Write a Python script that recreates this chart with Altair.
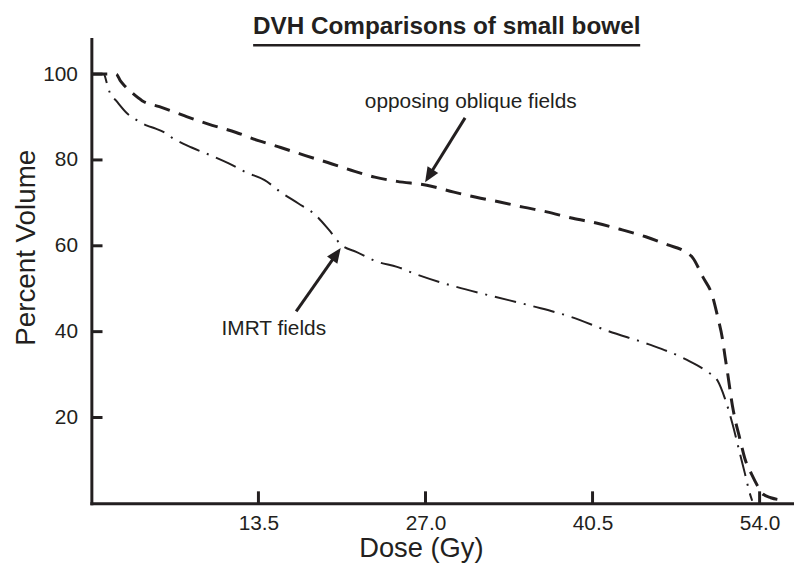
import altair as alt
import pandas as pd

# ---- data ----
dose_oblique = [0, 1.0, 2.0, 2.35, 2.7, 3.3, 4.1, 5.5, 7.5, 9.4, 11.7, 13.5, 15.3, 17.3,
                19.1, 21.0, 22.9, 24.7, 27.1, 29.3, 31.1, 33.0, 34.9, 36.8, 38.9, 40.8,
                42.9, 44.8, 46.6, 48.0, 48.6, 49.4, 50.2, 50.6, 51.0, 51.2, 51.4, 51.8,
                52.0, 52.4, 52.8, 53.35, 53.85, 54.25, 54.9, 55.8]
vol_oblique = [100, 100, 100, 98.4, 97.2, 95.6, 93.8, 92.4, 90.3, 88.4, 86.4, 84.5, 82.9, 81.0,
               79.4, 77.6, 76.0, 75.0, 74.1, 72.5, 71.3, 70.2, 69.0, 67.9, 66.4, 65.3,
               63.7, 62.1, 60.2, 58.6, 57.2, 52.8, 48.2, 43.6, 38.3, 34.3, 30.6, 22.8,
               19.8, 15.1, 10.5, 6.8, 4.0, 2.2, 1.3, 0.8]

dose_imrt = [0, 1.0, 1.25, 1.5, 2.0, 2.9, 3.6, 4.5, 5.2, 5.9, 6.5, 8.1, 9.7, 11.1, 12.5,
             14.0, 15.3, 16.7, 18.1, 19.2, 20.2, 21.4, 23.1, 24.7, 26.3, 29.4, 32.5, 35.7,
             38.8, 41.8, 45.0, 48.0, 49.8, 50.6, 51.2, 51.8, 52.4, 52.8, 53.2, 53.4]
vol_imrt = [100, 100, 97.9, 95.6, 93.8, 90.8, 89.4, 88.0, 87.3, 86.4, 85.2, 82.9, 81.0, 79.2, 77.1,
            75.3, 72.5, 69.9, 67.2, 63.7, 60.2, 58.6, 56.3, 55.1, 53.3, 50.5, 48.2, 45.9,
            43.4, 40.1, 37.1, 33.6, 30.6, 28.6, 24.4, 18.6, 11.7, 7.1, 2.4, 0.6]

x_ticks = [13.5, 27.0, 40.5, 54.0]
y_ticks = [20, 40, 60, 80, 100]

title_text = "DVH Comparisons of small bowel"
x_title = "Dose (Gy)"
y_title = "Percent Volume"

label_text = ["opposing oblique fields", "IMRT fields"]
label_dose = [30.66, 14.74]
label_vol = [92.1, 39.2]

arrow_from_dose = [30.2, 16.55]
arrow_from_vol = [89.8, 44.7]
arrow_end_dose = [27.39, 19.69]
arrow_end_vol = [76.8, 57.6]
arrow_tip_dose = [26.97, 20.15]
arrow_tip_vol = [74.8, 59.5]
arrow_angle = [211.6, 35.1]

# ---- styling ----
INK = "#231f20"
FONT = "Liberation Sans"
W, H = 706, 468
X_MAX, Y_MAX = 56.62, 108.2
XT_LEN, YT_LEN = 2.8, 0.9   # inward tick lengths in data units

df_ob = pd.DataFrame({"dose": dose_oblique, "vol": vol_oblique, "i": range(len(dose_oblique))})
df_im = pd.DataFrame({"dose": dose_imrt, "vol": vol_imrt, "i": range(len(dose_imrt))})
df_xt = pd.DataFrame({"dose": x_ticks, "vol": [0.0] * len(x_ticks),
                      "vol2": [XT_LEN] * len(x_ticks)})
df_yt = pd.DataFrame({"vol": y_ticks, "dose": [0.0] * len(y_ticks),
                      "dose2": [YT_LEN] * len(y_ticks)})
df_lab = pd.DataFrame({"t": label_text, "dose": label_dose, "vol": label_vol})
df_arr = pd.DataFrame({"dose": arrow_from_dose, "vol": arrow_from_vol,
                       "dose2": arrow_end_dose, "vol2": arrow_end_vol})
df_head = pd.DataFrame({"dose": arrow_tip_dose, "vol": arrow_tip_vol, "ang": arrow_angle})
df_title = pd.DataFrame({"t": [title_text]})

xs = alt.Scale(domain=[0, X_MAX], nice=False, zero=False)
ys = alt.Scale(domain=[0, Y_MAX], nice=False, zero=False)

x_axis = alt.Axis(values=x_ticks, format=".1f", title=x_title, grid=False, ticks=False,
                  labelFontSize=21, labelPadding=9, labelColor=INK, labelFont=FONT,
                  domainColor=INK, domainWidth=3, domainCap="square",
                  titleFont=FONT, titleFontSize=27.5, titleFontWeight="normal", titleColor=INK,
                  titleX=332, titleY=54, titleAlign="center", titleBaseline="alphabetic")
y_axis = alt.Axis(values=y_ticks, title=y_title, grid=False, ticks=False,
                  labelFontSize=21, labelPadding=14, labelColor=INK, labelFont=FONT,
                  domainColor=INK, domainWidth=3, domainCap="square",
                  titleFont=FONT, titleFontSize=28, titleFontWeight="normal", titleColor=INK,
                  titleX=-57, titleY=210, titleAngle=270, titleAlign="center",
                  titleBaseline="alphabetic")

X = alt.X("dose:Q", scale=xs, axis=x_axis)
Y = alt.Y("vol:Q", scale=ys, axis=y_axis)

oblique = alt.Chart(df_ob).mark_line(
    color=INK, strokeWidth=3, strokeDash=[16, 9.5], interpolate="monotone"
).encode(x=X, y=Y, order="i:Q")

imrt = alt.Chart(df_im).mark_line(
    color=INK, strokeWidth=2, strokeDash=[22, 8, 2, 8], interpolate="monotone"
).encode(x=X, y=Y, order="i:Q")

xticks = alt.Chart(df_xt).mark_rule(color=INK, strokeWidth=3).encode(
    x=X, y=Y, y2="vol2:Q")
yticks = alt.Chart(df_yt).mark_rule(color=INK, strokeWidth=3).encode(
    x=X, x2="dose2:Q", y=Y)

labels = alt.Chart(df_lab).mark_text(
    font=FONT, fontSize=21, color=INK, align="center", baseline="alphabetic"
).encode(x=X, y=Y, text="t:N")

shafts = alt.Chart(df_arr).mark_rule(color=INK, strokeWidth=3).encode(
    x=X, y=Y, x2="dose2:Q", y2="vol2:Q")

heads = alt.Chart(df_head).mark_point(
    shape="M0,0 L-0.55,1.3 L0.55,1.3 Z", filled=True, color=INK, opacity=1,
    size=529, strokeWidth=0
).encode(x=X, y=Y, angle=alt.Angle("ang:Q", scale=None))

title = alt.Chart(df_title).mark_text(
    font=FONT, fontSize=24.5, fontWeight="bold", color=INK,
    align="center", baseline="alphabetic"
).encode(x=alt.value(358), y=alt.value(-5), text="t:N")
underline = alt.Chart(df_title).mark_rule(color=INK, strokeWidth=2.5).encode(
    x=alt.value(163), x2=alt.value(553), y=alt.value(6.5))

chart = alt.layer(
    oblique, imrt, xticks, yticks, labels, shafts, heads, title, underline
).properties(
    width=W, height=H,
    autosize=alt.AutoSizeParams(type="none"),
    padding={"left": 84, "top": 29, "right": 4, "bottom": 60},
    background="white",
).configure_view(stroke=None)

chart.save("out.html", embed_options={"renderer": "svg", "actions": False})
